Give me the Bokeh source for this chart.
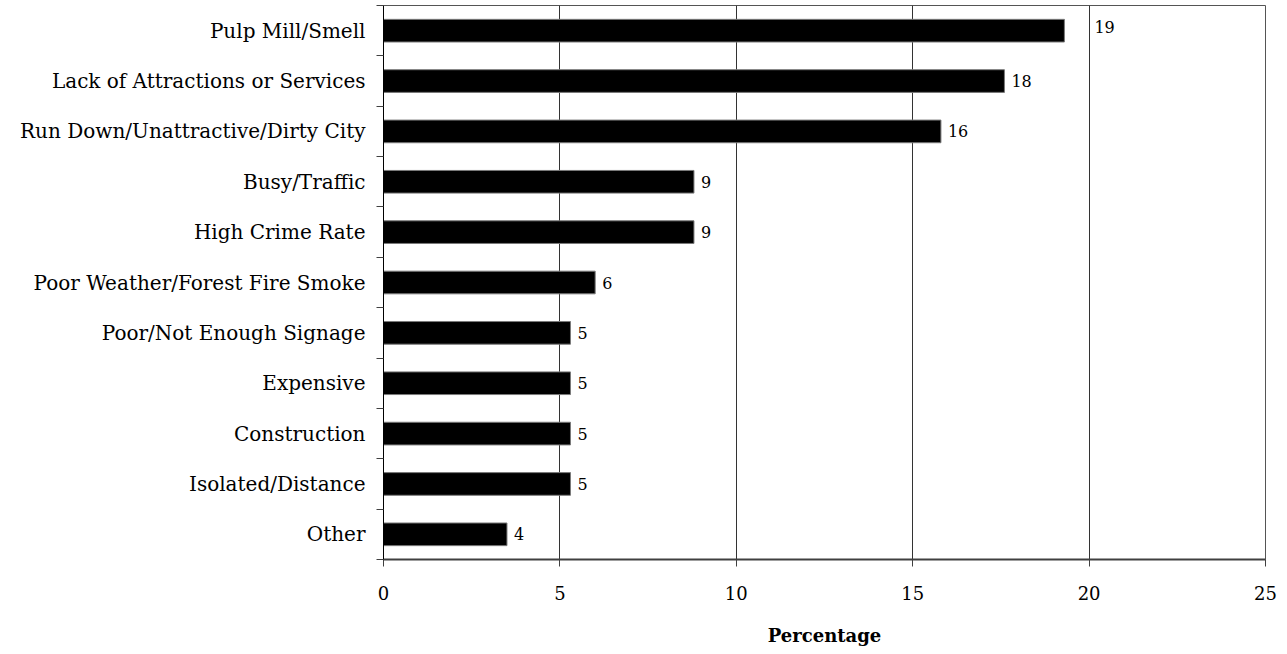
from bokeh.plotting import figure
from bokeh.models import ColumnDataSource, FixedTicker, Range1d
from bokeh.core.properties import value
from bokeh.embed import file_html
from bokeh.resources import INLINE

# Reasons given for a negative impression, top to bottom
categories = [
    "Pulp Mill/Smell",
    "Lack of Attractions or Services",
    "Run Down/Unattractive/Dirty City",
    "Busy/Traffic",
    "High Crime Rate",
    "Poor Weather/Forest Fire Smoke",
    "Poor/Not Enough Signage",
    "Expensive",
    "Construction",
    "Isolated/Distance",
    "Other",
]
percentages = [19.3, 17.6, 15.8, 8.8, 8.8, 6.0, 5.3, 5.3, 5.3, 5.3, 3.5]
x_ticks = [0, 5, 10, 15, 20, 25]

FONT = "DejaVu Serif"

n = len(categories)
# first category sits at the top of the axis
positions = [n - i for i in range(n)]
labels = [f"{v:.0f}" for v in percentages]
# the first value label is nudged clear of the 20% gridline
label_dx = [30] + [7] * (n - 1)
label_dy = [-4] + [0] * (n - 1)

source = ColumnDataSource(dict(
    cat=categories, pct=percentages, pos=positions,
    label=labels, dx=label_dx, dy=label_dy,
))

p = figure(
    width=1287, height=654,
    x_range=Range1d(0, 25), y_range=Range1d(0.5, n + 0.5),
    output_backend="svg", toolbar_location=None,
    min_border_left=383, min_border_right=22,
    min_border_top=5, min_border_bottom=95,
)
p.background_fill_color = "white"
p.border_fill_color = "white"
p.outline_line_color = "#555555"
p.outline_line_width = 1

p.hbar(y="pos", right="pct", left=0, height=0.45, source=source,
       fill_color="black", line_color="#7a7a7a", line_width=1)

p.text(x="pct", y="pos", text="label", source=source,
       x_offset="dx", y_offset="dy",
       text_baseline="middle", text_align="left",
       text_font=value(FONT), text_font_size="16px", text_color="black")

# x axis
p.xaxis.ticker = FixedTicker(ticks=x_ticks)
p.xaxis.axis_label = "Percentage"
p.xaxis.axis_label_text_font = FONT
p.xaxis.axis_label_text_font_style = "bold"
p.xaxis.axis_label_text_font_size = "18px"
p.xaxis.axis_label_text_color = "black"
p.xaxis.axis_label_standoff = 22
p.xaxis.major_label_text_font = FONT
p.xaxis.major_label_text_font_size = "18px"
p.xaxis.major_label_text_color = "black"
p.xaxis.major_label_standoff = 19
p.xaxis.major_tick_out = 7
p.xaxis.major_tick_in = 0
p.xaxis.major_tick_line_color = "#404040"
p.xaxis.minor_tick_line_color = None
p.xaxis.axis_line_color = "#404040"
p.xaxis.axis_line_width = 2

# y axis: labels at bar centres, ticks on category boundaries
p.yaxis.ticker = FixedTicker(ticks=positions,
                             minor_ticks=[k + 0.5 for k in range(n + 1)])
p.yaxis.major_label_overrides = {pos: cat for pos, cat in zip(positions, categories)}
p.yaxis.major_label_text_font = FONT
p.yaxis.major_label_text_font_size = "20px"
p.yaxis.major_label_text_color = "black"
p.yaxis.major_label_standoff = 11
p.yaxis.major_tick_out = 0
p.yaxis.major_tick_in = 0
p.yaxis.minor_tick_out = 7
p.yaxis.minor_tick_in = 0
p.yaxis.minor_tick_line_color = "#404040"
p.yaxis.axis_line_color = "black"

p.xgrid.ticker = FixedTicker(ticks=x_ticks[1:])
p.xgrid.grid_line_color = "#333333"
p.xgrid.grid_line_width = 1
p.ygrid.grid_line_color = None

open("out.html", "w").write(file_html(p, INLINE))
